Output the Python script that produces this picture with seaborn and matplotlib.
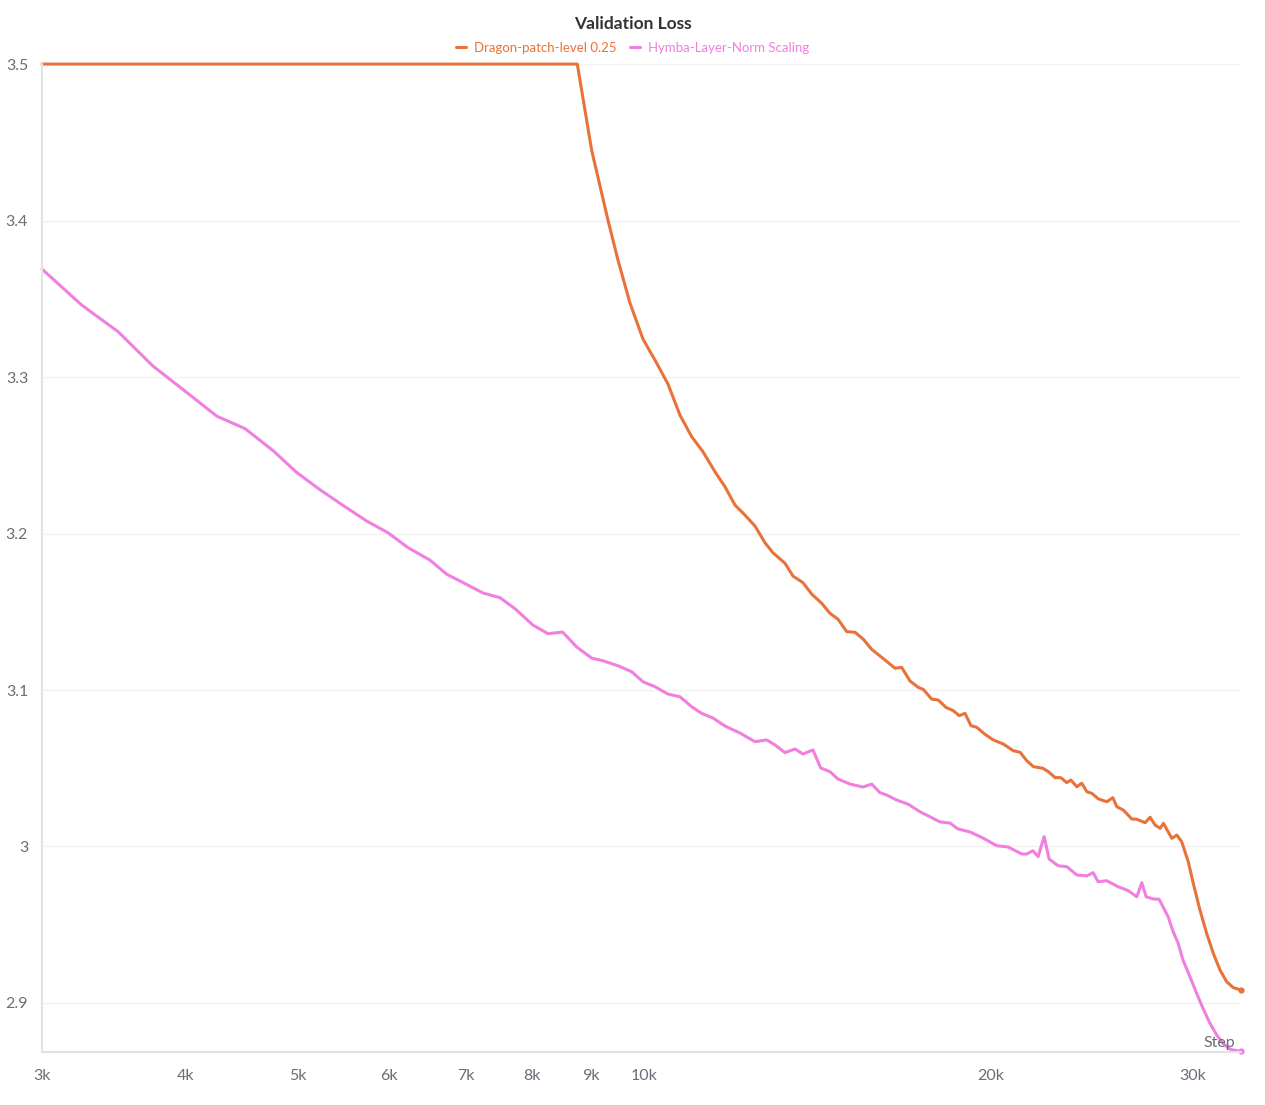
import matplotlib
matplotlib.use("Agg")
import matplotlib.pyplot as plt
import numpy as np
import pandas as pd
import seaborn as sns

# steps / loss
dragon_steps = [3000, 8754, 9009, 9308, 9496, 9727, 9983, 10261, 10496, 10750, 11005,
                11256, 11530, 11763, 12001, 12243, 12491, 12743, 12949, 13264, 13478,
                13750, 13992, 14275, 14514, 14748, 15008, 15260, 15516, 15776, 16201,
                16529, 16751, 17032, 17317, 17491, 17788, 18024, 18304, 18573, 18797,
                19013, 19243, 19463, 19789, 20122, 20528, 20943, 21231, 21518, 21803,
                22217, 22467, 22770, 23031, 23310, 23497, 23781, 24019, 24262, 24505,
                24831, 25252, 25557, 25762, 26096, 26546, 26814, 27263, 27537, 27814,
                28094, 28280, 28759, 29048, 29330, 29720, 30018, 30423, 30834, 31245,
                31666, 32094, 32521, 33025]
dragon_loss = [3.5, 3.5, 3.445, 3.4003, 3.3748, 3.3473, 3.3243, 3.3089, 3.2955, 3.2757,
               3.2619, 3.2523, 3.2395, 3.2299, 3.2182, 3.2118, 3.2048, 3.1941, 3.1877,
               3.181, 3.1728, 3.1686, 3.1613, 3.1554, 3.149, 3.1452, 3.1373, 3.1369,
               3.1324, 3.126, 3.1192, 3.1139, 3.1145, 3.1058, 3.1017, 3.1004, 3.0942,
               3.0936, 3.0889, 3.0868, 3.0836, 3.0851, 3.0772, 3.0762, 3.0717, 3.0681,
               3.0655, 3.0612, 3.0602, 3.0548, 3.051, 3.05, 3.0478, 3.044, 3.044,
               3.0408, 3.0425, 3.0382, 3.0404, 3.035, 3.034, 3.0304, 3.0286, 3.0312,
               3.0254, 3.0233, 3.0176, 3.0174, 3.0152, 3.0187, 3.0137, 3.0116, 3.0148,
               3.0052, 3.0073, 3.0031, 2.9903, 2.9765, 2.9594, 2.9445, 2.9318, 2.9211,
               2.9136, 2.9098, 2.9083]

hymba_steps = [3000, 3248, 3493, 3746, 3994, 4256, 4504, 4763, 4994, 5232, 5478, 5744,
               5994, 6239, 6520, 6741, 6993, 7249, 7499, 7728, 8011, 8255, 8502, 8743,
               9009, 9215, 9496, 9760, 9983, 10226, 10496, 10750, 11005, 11227, 11484,
               11763, 12122, 12491, 12787, 13001, 13264, 13532, 13750, 14028, 14246,
               14514, 14748, 15105, 15504, 15776, 16040, 16256, 16585, 16974, 17376,
               17727, 18086, 18451, 18749, 19205, 19712, 20259, 20722, 21303, 21518,
               21777, 22009, 22275, 22499, 22907, 23310, 23781, 24262, 24569, 24816,
               25252, 25829, 26351, 26814, 27083, 27317, 27703, 28037, 28547, 28834,
               29124, 29406, 29820, 30222, 30606, 31038, 31457, 31857, 32306, 33025]
hymba_loss = [3.369, 3.346, 3.329, 3.307, 3.291, 3.275, 3.267, 3.253, 3.239, 3.228,
              3.218, 3.208, 3.2005, 3.191, 3.183, 3.174, 3.168, 3.162, 3.159, 3.152,
              3.1415, 3.136, 3.137, 3.1275, 3.1204, 3.1187, 3.1155, 3.1117, 3.1053,
              3.1021, 3.0974, 3.0957, 3.0893, 3.0851, 3.0821, 3.077, 3.0725, 3.067,
              3.0681, 3.0649, 3.06, 3.0623, 3.0591, 3.0617, 3.0502, 3.0478, 3.0431,
              3.0399, 3.038, 3.0399, 3.0344, 3.0329, 3.0297, 3.027, 3.0222, 3.019,
              3.0157, 3.015, 3.0112, 3.0093, 3.0054, 3.0005, 2.9997, 2.9952, 2.9952,
              2.9973, 2.9935, 3.0063, 2.992, 2.9877, 2.9871, 2.9818, 2.9812, 2.9833,
              2.9775, 2.9781, 2.9743, 2.9718, 2.9679, 2.9769, 2.9679, 2.9665, 2.9663,
              2.9551, 2.9456, 2.9382, 2.9275, 2.9168, 2.9062, 2.8966, 2.887, 2.8796,
              2.8742, 2.8704, 2.869]

x_ticks = [3000, 4000, 5000, 6000, 7000, 8000, 9000, 10000, 20000, 30000]
x_labels = ["3k", "4k", "5k", "6k", "7k", "8k", "9k", "10k", "20k", "30k"]
y_ticks = [2.9, 3.0, 3.1, 3.2, 3.3, 3.4, 3.5]
y_labels = ["2.9", "3", "3.1", "3.2", "3.3", "3.4", "3.5"]

series = ["Dragon-patch-level 0.25", "Hymba-Layer-Norm Scaling"]
colors = ["#e8733a", "#f07fe0"]

df = pd.concat([
    pd.DataFrame({"Step": dragon_steps, "loss": dragon_loss, "run": series[0]}),
    pd.DataFrame({"Step": hymba_steps, "loss": hymba_loss, "run": series[1]}),
])

sns.set_theme(style="white")
plt.rcParams["font.family"] = ["Lato", "DejaVu Sans"]

fig = plt.figure(figsize=(12.65, 11.05), dpi=100)
ax = fig.add_axes([0.0332, 0.048, 0.9478, 0.894])

sns.lineplot(data=df, x="Step", y="loss", hue="run", palette=colors,
             hue_order=series, linewidth=2.2, ax=ax, legend=False, sort=False,
             estimator=None)
for line, c in zip(ax.lines, colors):
    line.set_clip_on(False)
    line.set_solid_capstyle("round")
    ax.plot(line.get_xdata()[-1], line.get_ydata()[-1], "o", color=c,
            markersize=3.5, clip_on=False)

ax.set_xscale("log")
ax.set_xlim(3000, 33025)
ax.set_ylim(2.8687, 3.5)
ax.set_xticks(x_ticks)
ax.set_xticklabels(x_labels)
ax.xaxis.set_minor_locator(matplotlib.ticker.NullLocator())
ax.set_yticks(y_ticks)
ax.set_yticklabels(y_labels)
ax.set_xlabel("")
ax.set_ylabel("")

ax.grid(axis="y", color="#f2f2f2", linewidth=1)
ax.grid(axis="x", visible=False)
for s in ["top", "right"]:
    ax.spines[s].set_visible(False)
for s in ["left", "bottom"]:
    ax.spines[s].set_color("#e2e2e2")
    ax.spines[s].set_linewidth(1.5)
ax.tick_params(axis="both", direction="inout", length=8, width=1, color="#e2e2e2",
               labelcolor="#6b6e78", labelsize=11.5)
ax.tick_params(axis="y", pad=6)
ax.tick_params(axis="x", pad=8)
ax.set_axisbelow(True)

ax.text(0.995, 0.002, "Step", transform=ax.transAxes, ha="right", va="bottom",
        fontsize=11.5, color="#6b6e78")

fig.text(0.5, 0.978, "Validation Loss", ha="center", va="center",
         fontsize=12.5, fontweight="bold", color="#333333")

handles = [plt.Line2D([], [], color=c, linewidth=2.2) for c in colors]
leg = fig.legend(handles, series, loc="center", bbox_to_anchor=(0.5, 0.9565),
                 ncol=2, frameon=False, fontsize=9.5, handlelength=0.8,
                 handletextpad=0.6, columnspacing=1.0, labelcolor=colors)

fig.savefig("out.png", dpi=100)
